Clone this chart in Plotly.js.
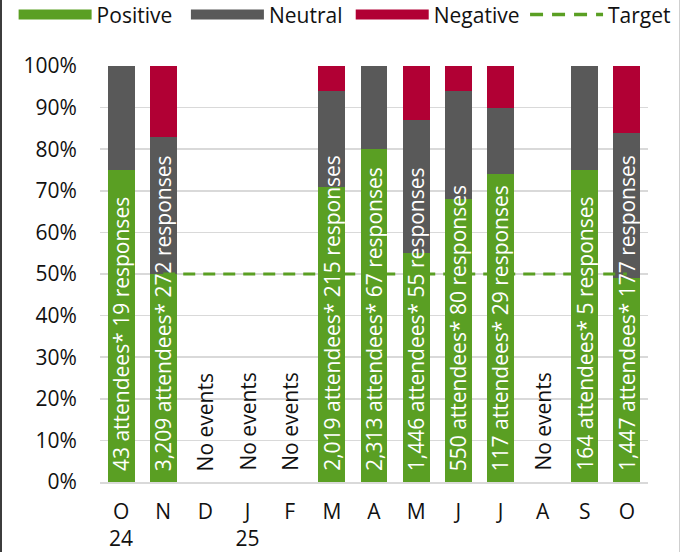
<!DOCTYPE html>
<html>
<head>
<meta charset="utf-8">
<script src="https://cdn.plot.ly/plotly-3.0.1.min.js"></script>
<style>
  html, body { margin: 0; padding: 0; background: #fff; }
  #wrap { position: relative; width: 681px; height: 552px; overflow: hidden; }
  #chart { width: 681px; height: 552px; }
  .edge-left { position: absolute; left: 0; top: 0; width: 2px; height: 552px; background: #3c3c3c; }
  .edge-right { position: absolute; left: 679px; top: 0; width: 1px; height: 552px; background: #cfcfcf; }
</style>
</head>
<body>
<div id="wrap">
  <div id="chart"></div>
  <div class="edge-left"></div>
  <div class="edge-right"></div>
</div>
<script>
// Monthly event feedback, October 2024 to October 2025
const months = ['Oct 24', 'Nov 24', 'Dec 24', 'Jan 25', 'Feb 25', 'Mar 25', 'Apr 25',
                'May 25', 'Jun 25', 'Jul 25', 'Aug 25', 'Sep 25', 'Oct 25'];
const monthLabels = ['O<br>24', 'N', 'D', 'J<br>25', 'F', 'M', 'A', 'M', 'J', 'J', 'A', 'S', 'O'];

// Share of responses (%)
const positive = [75, 50, null, null, null, 71, 80, 55, 68, 74, null, 75, 49];
const neutral  = [25, 33, null, null, null, 23, 20, 32, 26, 16, null, 25, 35];
const negative = [0, 17, null, null, null, 6, 0, 13, 6, 10, null, 0, 16];
const target   = [null, 50, 50, 50, 50, 50, 50, 50, 50, 50, 50, 50, 50];

// Percentage axis ticks
const pctTicks = [0, 10, 20, 30, 40, 50, 60, 70, 80, 90, 100];
const pctLabels = pctTicks.map(v => v + '%');

// Attendance and response counts
const attendees = [43, 3209, null, null, null, 2019, 2313, 1446, 550, 117, null, 164, 1447];
const responses = [19, 272, null, null, null, 215, 67, 55, 80, 29, null, 5, 177];
const noEventsText = 'No events';

const GREEN = '#5a9f23';
const GREY = '#595959';
const RED = '#b10034';
const FONT = 'Open Sans, Noto Sans, sans-serif';
const TEXT = '#111111';

const barTrace = (name, values, color) => ({
  type: 'bar', name: name, x: months, y: values,
  marker: { color: color }, showlegend: false, hoverinfo: 'skip'
});

// Legend entries drawn as thick line swatches, one legend box per entry
const legendTrace = (name, color, dash, width, legendId) => ({
  type: 'scatter', mode: 'lines', name: name, x: [null], y: [null],
  line: { color: color, width: width, dash: dash }, hoverinfo: 'skip',
  legend: legendId, showlegend: true
});

const traces = [
  barTrace('Positive', positive, GREEN),
  barTrace('Neutral', neutral, GREY),
  barTrace('Negative', negative, RED),
  {
    type: 'scatter', mode: 'lines', name: 'Target', x: months, y: target,
    line: { color: GREEN, width: 3, dash: '12px,8px' }, showlegend: false,
    hoverinfo: 'skip', connectgaps: false
  },
  legendTrace('Positive', GREEN, 'solid', 14, 'legend'),
  legendTrace('Neutral', GREY, 'solid', 14, 'legend2'),
  legendTrace('Negative', RED, 'solid', 14, 'legend3'),
  legendTrace('Target', GREEN, '13px,9px', 3.5, 'legend4')
];

const fmt = n => n.toLocaleString('en-US');

const annotations = months.map((m, i) => {
  const has = attendees[i] !== null;
  return {
    x: m, y: 0, xref: 'x', yref: 'y',
    text: has ? fmt(attendees[i]) + ' attendees* ' + fmt(responses[i]) + ' responses' : noEventsText,
    textangle: -90, showarrow: false,
    xanchor: 'center', yanchor: 'bottom', yshift: 9,
    font: { family: FONT, size: 21, color: has ? '#ffffff' : TEXT }
  };
});

const legendBox = x => ({
  orientation: 'h', xref: 'container', yref: 'container',
  x: x, y: 0.973, xanchor: 'left', yanchor: 'middle',
  itemwidth: 73, font: { family: FONT, size: 21, color: TEXT },
  bgcolor: 'rgba(0,0,0,0)'
});

const layout = {
  width: 681, height: 552,
  margin: { l: 100, r: 33, t: 66, b: 70, autoexpand: false },
  paper_bgcolor: '#ffffff', plot_bgcolor: '#ffffff',
  font: { family: FONT, size: 21, color: TEXT },
  barmode: 'stack', bargap: 0.36,
  showlegend: true,
  legend: legendBox(0.02),
  legend2: legendBox(0.273),
  legend3: legendBox(0.515),
  legend4: legendBox(0.771),
  xaxis: {
    type: 'category', categoryorder: 'array', categoryarray: months,
    tickmode: 'array', tickvals: months, ticktext: monthLabels,
    showgrid: false, showline: true, linecolor: '#d9d9d9', linewidth: 1.5,
    ticks: 'outside', ticklen: 10, tickcolor: 'rgba(0,0,0,0)',
    tickfont: { family: FONT, size: 21, color: TEXT }, fixedrange: true
  },
  yaxis: {
    range: [0, 100], tickmode: 'array', tickvals: pctTicks, ticktext: pctLabels,
    showgrid: true, gridcolor: '#d9d9d9', gridwidth: 1.5,
    zeroline: false, showline: false,
    ticks: 'outside', ticklen: 18, tickcolor: 'rgba(0,0,0,0)',
    tickfont: { family: FONT, size: 21, color: TEXT }, fixedrange: true
  },
  annotations: annotations
};

Plotly.newPlot('chart', traces, layout, { displayModeBar: false, staticPlot: true });
</script>
</body>
</html>
